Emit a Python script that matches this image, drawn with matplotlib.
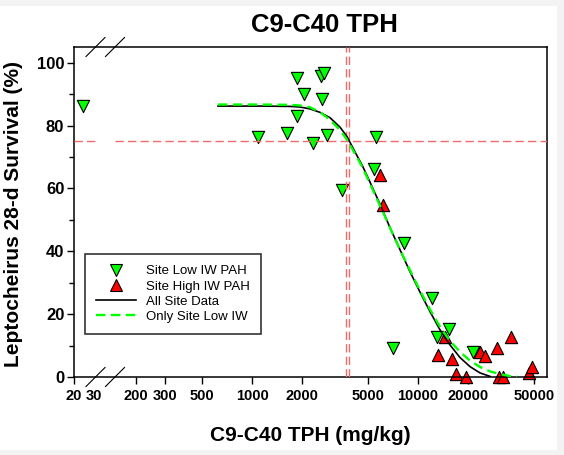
import numpy as np
import matplotlib
matplotlib.use('Agg')
import matplotlib.pyplot as plt
from matplotlib.lines import Line2D
from matplotlib.patches import Rectangle
from matplotlib.ticker import NullLocator

plt.rcParams['font.family'] = ['Liberation Sans', 'DejaVu Sans']

# survival data (TPH mg/kg, % survival)
low_x = [24, 1091, 1630, 1858, 1875, 2057, 2339, 2610, 2650, 2725, 2840, 3500,
         5430, 5560, 7100, 8220, 12190, 13060, 15380, 21530]
low_y = [86.2, 76.3, 77.7, 95.2, 83.2, 89.9, 74.5, 95.7, 88.3, 96.8, 76.9, 59.6,
         66.3, 76.4, 9.3, 42.6, 25.1, 12.8, 15.3, 8.1]
high_x = [5900, 6120, 13250, 14550, 15970, 16950, 19370, 23600, 25300, 29800,
          30840, 32300, 36100, 46900, 48400]
high_y = [64.4, 54.8, 7.0, 12.8, 5.6, 1.0, 0.0, 8.1, 6.7, 9.1, 0.0, 0.0, 12.8, 1.2, 3.3]

# fitted curves
fit_all_x = [624, 1117, 1693, 1945, 2236, 2568, 2950, 3388, 3734, 4230, 4597, 5137,
             5902, 6780, 7789, 8945, 10277, 11806, 13564, 15580, 17898, 20560, 23620, 27135]
fit_all_y = [86.2, 86.2, 86.1, 85.9, 85.3, 84.2, 82.5, 79.5, 76.5, 71.0, 67.5, 62.0,
             55.0, 47.5, 40.5, 33.5, 27.0, 20.8, 15.0, 10.2, 6.2, 3.3, 1.3, 0.2]
fit_low_x = [624, 1117, 1693, 1945, 2236, 2568, 2950, 3388, 3734, 4230, 4597, 5137,
             5902, 6780, 7789, 8945, 10277, 11806, 13564, 15580, 17898, 20560, 23620,
             27135, 31170, 35810, 39470]
fit_low_y = [86.7, 86.7, 86.6, 86.4, 85.8, 84.3, 81.8, 78.6, 75.5, 70.5, 67.0, 61.5,
             54.5, 47.5, 40.5, 34.0, 27.5, 21.5, 16.0, 11.5, 8.0, 5.2, 3.2, 1.8, 0.9, 0.3, 0.1]

ref_survival = 75
ref_conc = [3667, 3838]

xticks = [20, 30, 200, 300, 500, 1000, 2000, 5000, 10000, 20000, 50000]
yticks = [0, 20, 40, 60, 80, 100]

# broken log axis: 20..30 squeezed into a short stub left of the break
dec = 166.0  # px per decade in main part
p200 = np.log10(200)
p20 = p200 - 62 / dec
p30 = p20 + 20 / dec
L_knots = np.array([0, np.log10(20), np.log10(30), p200, 8])
P_knots = np.array([p20 - 0.684 * np.log10(20), p20, p30, p200, 8])


def fwd(x):
    x = np.clip(np.asarray(x, dtype=float), 1e-6, None)
    return np.interp(np.log10(x), L_knots, P_knots)


def inv(p):
    return 10 ** np.interp(np.asarray(p, dtype=float), P_knots, L_knots)


W, H = 564, 455
fig = plt.figure(figsize=(W / 100, H / 100), dpi=100, facecolor='#f3f3f3')
fig.patches.append(Rectangle((0, 5 / H), 557 / W, 444 / H, transform=fig.transFigure,
                             facecolor='white', edgecolor='none', zorder=-10))
ax = fig.add_axes([74 / W, 78 / H, 473 / W, 330 / H])
ax.patch.set_alpha(0)
ax.set_xscale('function', functions=(fwd, inv))
ax.set_xlim(20, inv(p200 + (547 - 136) / dec))
ax.set_ylim(0, 105)

# reference lines
ref_kw = dict(color='#f26a6a', lw=1.0, dashes=(6, 3), zorder=3)
ax.axhline(ref_survival, xmax=(95 - 74) / 473, **ref_kw)
ax.axhline(ref_survival, xmin=(115 - 74) / 473, **ref_kw)
for c in ref_conc:
    ax.axvline(c, **ref_kw)

ax.scatter(low_x, low_y, marker='v', s=78, c='#00ff00', edgecolors='black',
           linewidths=0.8, zorder=2, clip_on=False)
ax.scatter(high_x, high_y, marker='^', s=78, c='#ff0000', edgecolors='black',
           linewidths=0.8, zorder=2, clip_on=False)
ax.plot(fit_all_x, fit_all_y, color='black', lw=1.2, zorder=4)
ax.plot(fit_low_x, fit_low_y, color='#00ff00', lw=1.7, dashes=(4, 2.3), zorder=5)

ax.set_xticks(xticks)
ax.set_xticklabels([str(t) for t in xticks])
ax.xaxis.set_minor_locator(NullLocator())
ax.set_yticks(yticks)
ax.set_yticks([10, 30, 50, 70, 90], minor=True)
ax.tick_params(axis='both', which='major', direction='out', length=5, width=1.0)
ax.tick_params(axis='y', which='minor', direction='out', length=3.5, width=1.0)
ax.tick_params(axis='x', labelsize=10.5, pad=4)
ax.tick_params(axis='y', labelsize=12, pad=2)
for lab in ax.get_xticklabels() + ax.get_yticklabels():
    lab.set_fontweight('bold')
ax.xaxis.get_major_ticks()[1].tick1line.set_visible(False)
for sp in ax.spines.values():
    sp.set_linewidth(1.1)

# break marks
dx, dy = 9.5 / 473, 9.5 / 330
for cx in [95.5, 115]:
    fx = (cx - 74) / 473
    for fy in [0, 1]:
        ax.plot([fx - dx, fx + dx], [fy - dy, fy + dy], color='black', lw=0.8,
                transform=ax.transAxes, clip_on=False, zorder=6)

handles = [
    Line2D([], [], ls='none', marker='v', ms=8.5, mfc='#00ff00', mec='black', mew=0.8),
    Line2D([], [], ls='none', marker='^', ms=8.5, mfc='#ff0000', mec='black', mew=0.8),
    Line2D([], [], color='black', lw=1.2),
    Line2D([], [], color='#00ff00', lw=1.7, dashes=(4, 2.3)),
]
labels = ['Site Low IW PAH', 'Site High IW PAH', 'All Site Data', 'Only Site Low IW']
leg = ax.legend(handles, labels, loc='upper left', bbox_to_anchor=((85 - 74) / 473, (377 - 254) / 330),
                fontsize=9.5, frameon=True, fancybox=False, edgecolor='black',
                handlelength=3.0, handletextpad=0.8, labelspacing=0.22, borderpad=0.85,
                borderaxespad=0)
leg.get_frame().set_linewidth(1.2)

fig.text(324 / W, 1 - 24.6 / H, 'C9-C40 TPH', fontsize=18.5, fontweight='bold',
         ha='center', va='center')
fig.text(310 / W, 1 - 435.7 / H, 'C9-C40 TPH (mg/kg)', fontsize=15, fontweight='bold',
         ha='center', va='center')
fig.text(14 / W, 1 - 214 / H, 'Leptocheirus 28-d Survival (%)', fontsize=15,
         fontweight='bold', rotation=90, ha='center', va='center')

fig.savefig('out.png', dpi=100, facecolor=fig.get_facecolor())
